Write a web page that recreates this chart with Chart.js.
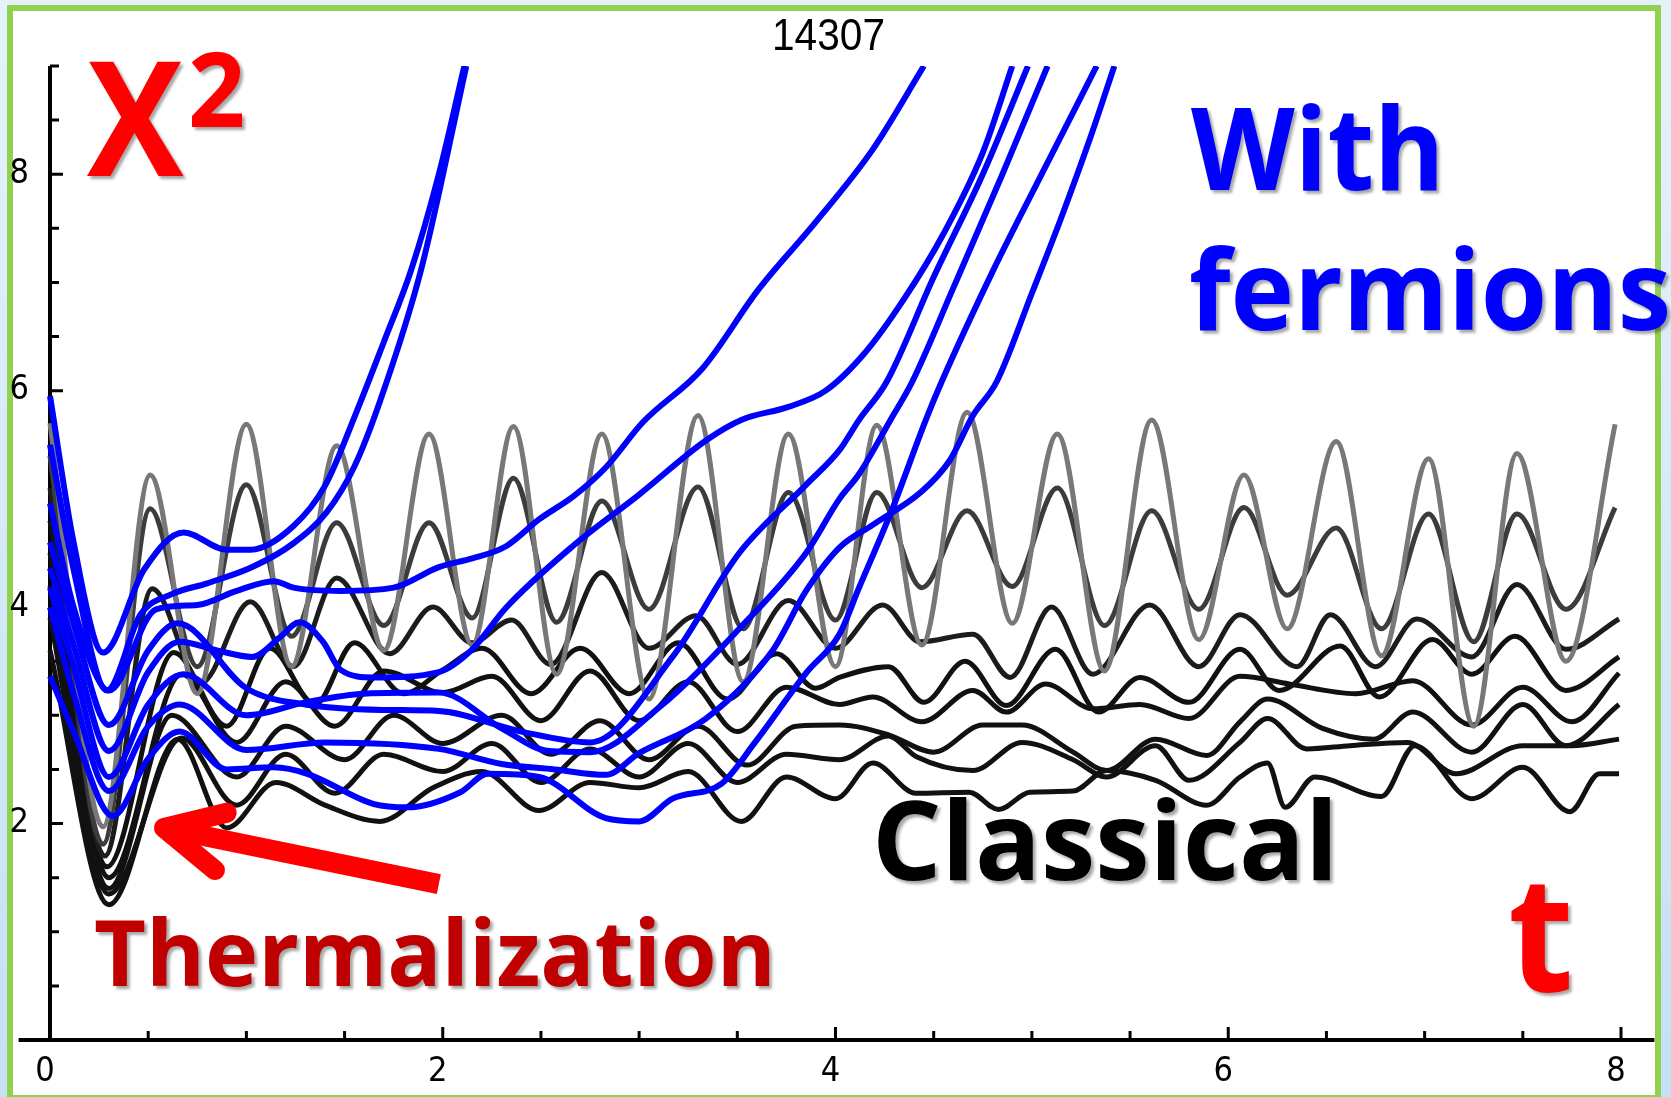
<!DOCTYPE html>
<html>
<head>
<meta charset="utf-8">
<title>X2 vs t</title>
<script src="https://cdn.jsdelivr.net/npm/chart.js@4.4.1/dist/chart.umd.min.js"></script>
<style>
  html, body { margin: 0; padding: 0; }
  body {
    width: 1671px; height: 1097px; overflow: hidden; position: relative;
    background: linear-gradient(180deg, #e6f2fb 0%, #c4e1f5 100%);
  }
  #frame {
    position: absolute; left: 7px; top: 5px; width: 1654px; height: 1096px;
    box-sizing: border-box; border: 6px solid #92d050; background: #fff;
  }
  #chart { position: absolute; left: 0; top: 0; }
  .note {
    position: absolute; white-space: nowrap; line-height: 1;
    font-family: 'Open Sans', 'Noto Sans', sans-serif; font-weight: 700;
    transform-origin: 0 0; text-shadow: 3px 3px 3px rgba(0, 0, 0, 0.35);
  }
  #title { font-family: 'Liberation Sans', Arial, sans-serif; font-weight: 400; text-shadow: none; color: #000; }
</style>
</head>
<body>
<div id="frame"></div>
<canvas id="chart" width="1671" height="1097"></canvas>

<div class="note" id="title">14307</div>
<div class="note" id="noteX" style="color:#ff0000">X</div>
<div class="note" id="noteSq" style="color:#ff0000">2</div>
<div class="note" id="noteWith" style="color:#0000ff">With</div>
<div class="note" id="noteFerm" style="color:#0000ff">fermions</div>
<div class="note" id="noteClass" style="color:#000">Classical</div>
<div class="note" id="noteTherm" style="color:#c00000">Thermalization</div>
<div class="note" id="noteT" style="color:#ff0000">t</div>

<script>
// axis ticks
const xTickLabels = [0, 2, 4, 6, 8];
const yTickLabels = [2, 4, 6, 8];

// runs with fermions, [t, x^2]
const blueA = [[0,5.95],[0.12,4.6],[0.27,3.58],[0.48,4.35],[0.68,4.69],[0.9,4.53],[1.02,4.53],[1.24,4.75],[1.4,5.12],[1.56,5.8],[1.7,6.45],[1.84,7.12],[1.98,8.0],[2.11,9.0]];
const blueB = [[0,5.5],[0.12,4.35],[0.29,3.23],[0.46,3.93],[0.62,4.12],[0.8,4.22],[1.03,4.37],[1.24,4.59],[1.41,4.88],[1.55,5.3],[1.68,5.9],[1.89,7.12],[2.12,9.0]];
const blueC = [[0,4.96],[0.12,4.0],[0.3,3.23],[0.54,3.98],[0.75,4.02],[0.95,4.15],[1.14,4.24],[1.24,4.18],[1.48,4.15],[1.75,4.18],[1.98,4.37],[2.15,4.45],[2.32,4.56],[2.49,4.81],[2.67,5.03],[2.83,5.29],[3.02,5.71],[3.32,6.2],[3.61,6.94],[3.9,7.56],[4.19,8.23],[4.45,9.0]];
const blueD = [[0,4.36],[0.12,3.65],[0.3,2.67],[0.5,3.4],[0.66,3.68],[0.85,3.6],[1.03,3.54],[1.17,3.72],[1.27,3.86],[1.39,3.68],[1.48,3.42],[1.65,3.35],[1.98,3.4],[2.15,3.61],[2.32,3.99],[2.66,4.56],[3.0,5.04],[3.34,5.54],[3.52,5.73],[3.76,5.85],[3.95,6.0],[4.15,6.35],[4.35,6.85],[4.55,7.45],[4.75,8.2],[4.9,9.0]];
const blueE = [[0,4.6],[0.12,3.85],[0.3,2.91],[0.5,3.6],[0.65,3.85],[1.0,3.25],[1.3,3.1],[1.7,3.05],[1.98,3.04],[2.4,2.85],[2.75,2.75],[3.17,3.54],[3.51,4.5],[3.85,5.13],[4.02,5.45],[4.12,5.73],[4.26,6.08],[4.5,7.05],[4.75,8.0],[4.98,9.0]];
const blueF = [[0,4.18],[0.12,3.45],[0.3,2.43],[0.5,3.1],[0.68,3.38],[1.0,3.0],[1.3,3.12],[1.6,3.2],[1.98,3.21],[2.3,2.88],[2.54,2.67],[2.75,2.66],[3.1,3.07],[3.51,3.8],[3.85,4.5],[4.02,5.0],[4.12,5.23],[4.28,5.73],[4.39,6.08],[4.6,6.95],[4.85,8.0],[5.08,9.0]];
const blueG = [[0,3.36],[0.12,2.85],[0.32,2.07],[0.5,2.6],[0.66,2.85],[0.9,2.5],[1.14,2.52],[1.31,2.46],[1.65,2.18],[1.82,2.15],[2.09,2.29],[2.23,2.46],[2.49,2.43],[2.83,2.05],[3.0,2.02],[3.17,2.23],[3.42,2.37],[3.59,2.75],[3.85,3.39],[4.02,3.75],[4.12,4.18],[4.29,4.91],[4.46,5.73],[4.54,6.08],[4.8,7.1],[5.05,8.0],[5.33,9.0]];
const blueH = [[0,4.0],[0.12,3.2],[0.3,2.3],[0.5,2.9],[0.66,3.1],[1.0,2.68],[1.4,2.75],[1.98,2.69],[2.3,2.55],[2.57,2.5],[2.83,2.45],[3.0,2.65],[3.34,2.97],[3.68,3.6],[3.85,4.15],[4.02,4.55],[4.19,4.76],[4.44,5.07],[4.58,5.35],[4.7,5.77],[4.82,6.08],[5.0,6.9],[5.15,7.6],[5.3,8.35],[5.42,9.0]];

// classical runs, [t, x^2]
const gray1 = [[0,5.7],[0.27,1.97],[0.51,5.22],[0.75,3.2],[1.0,5.69],[1.23,3.45],[1.46,5.49],[1.7,3.6],[1.93,5.6],[2.15,3.65],[2.36,5.67],[2.58,3.38],[2.81,5.6],[3.05,3.15],[3.3,5.77],[3.53,3.31],[3.76,5.6],[4.0,3.45],[4.21,5.68],[4.44,3.65],[4.67,5.8],[4.9,3.85],[5.13,5.6],[5.37,3.41],[5.61,5.73],[5.85,3.7],[6.08,5.22],[6.3,3.8],[6.55,5.53],[6.78,3.55],[7.02,5.37],[7.25,2.9],[7.47,5.42],[7.72,3.5],[7.97,5.69]];
const gray2 = [[0,5.4],[0.27,1.81],[0.51,4.91],[0.75,3.45],[1.0,5.13],[1.23,3.73],[1.46,4.78],[1.7,3.83],[1.93,4.78],[2.15,3.9],[2.36,5.19],[2.58,3.86],[2.81,4.98],[3.05,3.98],[3.3,5.11],[3.53,3.8],[3.76,5.06],[4.0,3.88],[4.21,5.06],[4.44,4.18],[4.67,4.89],[4.9,4.19],[5.13,5.1],[5.37,3.83],[5.61,4.89],[5.85,3.98],[6.08,4.92],[6.3,4.11],[6.55,4.73],[6.78,3.8],[7.02,4.86],[7.25,3.68],[7.47,4.86],[7.72,3.98],[7.97,4.92]];
const black3 = [[0,5.1],[0.28,1.7],[0.52,4.17],[0.77,3.3],[1.02,4.05],[1.24,3.45],[1.46,4.27],[1.73,3.57],[1.95,4.0],[2.15,3.67],[2.35,3.88],[2.55,3.47],[2.81,4.32],[3.05,3.62],[3.29,3.92],[3.5,3.47],[3.76,4.06],[4.0,3.62],[4.24,4.02],[4.43,3.68],[4.7,3.75],[4.89,3.35],[5.1,4.0],[5.31,3.38],[5.6,4.02],[5.85,3.45],[6.06,3.93],[6.35,3.45],[6.52,3.93],[6.75,3.45],[6.96,3.89],[7.24,3.54],[7.47,4.21],[7.72,3.61],[7.99,3.89]];
const black4 = [[0,4.8],[0.29,1.6],[0.63,3.58],[0.9,2.9],[1.12,3.62],[1.35,3.1],[1.55,3.67],[1.8,3.2],[2.0,3.42],[2.2,3.62],[2.45,3.2],[2.7,3.62],[2.95,3.2],[3.2,3.67],[3.45,3.15],[3.7,3.57],[3.9,3.25],[4.02,3.35],[4.27,3.45],[4.45,3.12],[4.66,3.5],[4.87,3.09],[5.12,3.61],[5.34,3.03],[5.55,3.35],[5.8,3.12],[6.06,3.61],[6.26,3.23],[6.57,3.64],[6.77,3.17],[7.04,3.7],[7.24,3.38],[7.46,3.73],[7.72,3.23],[7.99,3.54]];
const black5 = [[0,4.5],[0.3,1.5],[0.67,3.38],[0.95,2.75],[1.2,3.31],[1.45,2.9],[1.7,3.41],[2.0,3.21],[2.25,3.36],[2.5,2.95],[2.75,3.41],[3.0,2.95],[3.25,3.31],[3.5,2.85],[3.75,3.26],[4.02,3.1],[4.19,3.17],[4.44,2.94],[4.7,3.23],[4.87,3.03],[5.07,3.29],[5.31,3.06],[5.55,3.1],[5.8,2.97],[6.06,3.36],[6.31,3.29],[6.65,3.2],[6.94,3.32],[7.24,2.91],[7.5,3.26],[7.75,2.94],[7.99,3.39]];
const black6 = [[0,4.2],[0.3,1.4],[0.62,3.0],[0.95,2.43],[1.2,2.9],[1.5,2.59],[1.75,3.0],[2.0,2.74],[2.3,3.0],[2.55,2.64],[2.8,2.95],[3.05,2.59],[3.3,2.9],[3.55,2.54],[3.8,2.9],[4.02,2.91],[4.27,2.82],[4.5,2.66],[4.75,2.91],[4.95,2.91],[5.21,2.66],[5.38,2.49],[5.63,2.78],[5.89,2.63],[6.06,2.94],[6.2,3.15],[6.48,2.88],[6.74,2.78],[6.94,3.03],[7.24,2.66],[7.5,3.1],[7.72,2.72],[7.99,3.1]];
const black7 = [[0,3.9],[0.3,1.35],[0.67,2.79],[0.95,2.17],[1.2,2.64],[1.45,2.28],[1.7,2.64],[2.0,2.48],[2.25,2.74],[2.5,2.38],[2.75,2.69],[3.0,2.43],[3.25,2.74],[3.5,2.38],[3.75,2.64],[4.02,2.59],[4.27,2.81],[4.41,2.62],[4.7,2.49],[4.95,2.75],[5.21,2.59],[5.38,2.43],[5.63,2.72],[5.8,2.4],[6.06,2.75],[6.2,2.97],[6.4,2.69],[6.62,2.72],[6.91,2.75],[7.16,2.46],[7.5,2.72],[7.75,2.72],[7.99,2.78]];
const black8 = [[0,3.6],[0.3,1.25],[0.65,2.78],[0.9,1.96],[1.15,2.38],[1.4,2.17],[1.68,2.02],[1.95,2.33],[2.2,2.48],[2.49,2.12],[2.75,2.38],[3.0,2.33],[3.25,2.48],[3.52,2.02],[3.75,2.43],[4.0,2.23],[4.19,2.56],[4.41,2.28],[4.68,2.29],[4.83,2.13],[4.99,2.29],[5.21,2.3],[5.38,2.49],[5.63,2.4],[5.89,2.17],[6.06,2.43],[6.2,2.56],[6.29,2.15],[6.44,2.43],[6.78,2.25],[6.95,2.72],[7.24,2.23],[7.5,2.52],[7.74,2.11],[7.89,2.46],[7.99,2.46]];

// red arrow, in data units
const arrowTip = [0.58, 1.96];
const arrowTail = [1.98, 1.44];
const arrowBarbs = [[0.9, 2.1], [0.84, 1.57]];

const fermionRuns = [blueA, blueB, blueC, blueD, blueE, blueF, blueG, blueH];
const classicalRuns = [gray1, gray2, black3, black4, black5, black6, black7, black8];
const classicalColors = ['#787878', '#3c3c3c', '#1c1c1c', '#111', '#111', '#111', '#111', '#111'];

const toPoints = run => run.map(p => ({ x: p[0], y: p[1] }));

const datasets = [];
fermionRuns.forEach(run => {
  datasets.push({ data: toPoints(run), borderColor: '#0000ff', borderWidth: 6, order: 0 });
});
classicalRuns.forEach((run, i) => {
  datasets.push({ data: toPoints(run), borderColor: classicalColors[i], borderWidth: 5, order: 1 });
});

const tickFont = "'Liberation Sans Narrow', 'DejaVu Sans Condensed', 'Liberation Sans', sans-serif";

// axis lines with inward ticks, plus the arrow
const axisMarks = {
  id: 'axisMarks',
  beforeDatasetsDraw(chart) {
    const { ctx, scales: { x, y } } = chart;
    const x0 = x.getPixelForValue(0);
    const y0 = y.getPixelForValue(0);
    ctx.save();
    ctx.strokeStyle = '#000';
    ctx.lineWidth = 4;
    ctx.beginPath();
    ctx.moveTo(x.getPixelForValue(-0.16), y0);
    ctx.lineTo(x.getPixelForValue(8.17), y0);
    ctx.moveTo(x0, y0);
    ctx.lineTo(x0, y.getPixelForValue(9));
    ctx.stroke();

    ctx.lineWidth = 3;
    ctx.beginPath();
    for (let v = 0.5; v <= 8; v += 0.5) {
      const len = v % 2 === 0 ? 13 : 9;
      const px = x.getPixelForValue(v);
      ctx.moveTo(px, y0);
      ctx.lineTo(px, y0 - len);
    }
    for (let v = 0.5; v <= 9; v += 0.5) {
      const len = v % 2 === 0 ? 13 : 9;
      const py = y.getPixelForValue(v);
      ctx.moveTo(x0, py);
      ctx.lineTo(x0 + len, py);
    }
    ctx.stroke();
    ctx.restore();
  },
  afterDatasetsDraw(chart) {
    const { ctx, scales: { x, y } } = chart;
    const px = p => [x.getPixelForValue(p[0]), y.getPixelForValue(p[1])];
    const tip = px(arrowTip), tail = px(arrowTail);
    const b1 = px(arrowBarbs[0]), b2 = px(arrowBarbs[1]);
    ctx.save();
    ctx.strokeStyle = '#ff0000';
    ctx.lineWidth = 20;
    ctx.lineCap = 'butt';
    ctx.beginPath();
    ctx.moveTo(tail[0], tail[1]);
    ctx.lineTo(tip[0] + 20, tip[1] + 4);
    ctx.stroke();
    ctx.lineCap = 'round';
    ctx.lineJoin = 'round';
    ctx.beginPath();
    ctx.moveTo(b1[0], b1[1]);
    ctx.lineTo(tip[0], tip[1]);
    ctx.lineTo(b2[0], b2[1]);
    ctx.stroke();
    ctx.restore();
  }
};

new Chart(document.getElementById('chart'), {
  type: 'line',
  data: { datasets: datasets },
  options: {
    responsive: false,
    animation: false,
    events: [],
    layout: { padding: { left: 0, right: 50, top: 66, bottom: 0 } },
    elements: {
      point: { radius: 0 },
      line: { cubicInterpolationMode: 'monotone', fill: false }
    },
    datasets: { line: { clip: { left: 5, top: 0, right: 5, bottom: 5 } } },
    plugins: { legend: { display: false }, tooltip: { enabled: false } },
    scales: {
      x: {
        type: 'linear', min: 0, max: 8,
        grid: { display: false, drawTicks: false },
        border: { display: false },
        afterBuildTicks: s => { s.ticks = xTickLabels.map(v => ({ value: v })); },
        afterFit: s => { s.height = 57; },
        ticks: { padding: 12, labelOffset: -5, maxRotation: 0, autoSkip: false, color: '#000',
                 font: { family: tickFont, size: 34 } }
      },
      y: {
        type: 'linear', min: 0, max: 9,
        grid: { display: false, drawTicks: false },
        border: { display: false },
        afterBuildTicks: s => { s.ticks = yTickLabels.map(v => ({ value: v })); },
        afterFit: s => { s.width = 50; },
        ticks: { padding: 21, color: '#000', font: { family: tickFont, size: 34 } }
      }
    }
  },
  plugins: [axisMarks]
});

// place the big labels so their ink fills the given box
const measureCtx = document.createElement('canvas').getContext('2d');
function fitNote(id, box) {
  const el = document.getElementById(id);
  const cs = getComputedStyle(el);
  const font = size => `${cs.fontWeight} ${size}px ${cs.fontFamily}`;
  measureCtx.font = font(100);
  let m = measureCtx.measureText(el.textContent);
  const size = 100 * (box.bottom - box.top) / (m.actualBoundingBoxAscent + m.actualBoundingBoxDescent);
  measureCtx.font = font(size);
  m = measureCtx.measureText(el.textContent);
  const sx = (box.right - box.left) / (m.actualBoundingBoxLeft + m.actualBoundingBoxRight);
  const baseline = box.top + m.actualBoundingBoxAscent;
  const lead = (size - m.fontBoundingBoxAscent - m.fontBoundingBoxDescent) / 2;
  el.style.fontSize = size + 'px';
  el.style.left = (box.left + sx * m.actualBoundingBoxLeft) + 'px';
  el.style.top = (baseline - lead - m.fontBoundingBoxAscent) + 'px';
  el.style.transform = `scaleX(${sx})`;
}

fitNote('title', { left: 775, right: 884, top: 19, bottom: 50 });
fitNote('noteX', { left: 87, right: 184, top: 62, bottom: 177 });
fitNote('noteSq', { left: 191, right: 243, top: 52, bottom: 128 });
fitNote('noteWith', { left: 1191, right: 1437, top: 104, bottom: 193 });
fitNote('noteFerm', { left: 1191, right: 1668, top: 246, bottom: 333 });
fitNote('noteClass', { left: 878, right: 1330, top: 797, bottom: 882 });
fitNote('noteTherm', { left: 95, right: 769, top: 917, bottom: 988 });
fitNote('noteT', { left: 1511, right: 1569, top: 885, bottom: 995 });
</script>
</body>
</html>
